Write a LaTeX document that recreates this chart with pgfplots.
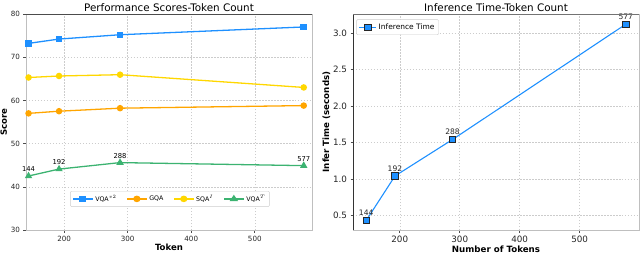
\documentclass[border=0pt]{standalone}
\usepackage{fontspec}
\setmainfont{DejaVu Sans}
\usepackage{pgfplots}
\pgfplotsset{compat=1.18}
\definecolor{cblue}{HTML}{1E90FF}
\definecolor{corange}{HTML}{FFA500}
\definecolor{cgold}{HTML}{FFD700}
\definecolor{cgreen}{HTML}{3CB371}
\begin{document}
\begin{tikzpicture}
\useasboundingbox (0,0) rectangle (640bp,254bp);
\pgfplotsset{
  base/.style={
    scale only axis,
    anchor=south west,
    /pgf/number format/assume math mode=true,
    grid=major,
    grid style={dash pattern=on 1.5pt off 1.5pt, black!20, line width=0.5pt},
    axis line style={black!25, line width=0.7pt},
    tick align=outside,
    major tick length=2.5bp,
    tick style={black!70, line width=0.6pt},
    xtick pos=bottom, ytick pos=left,
    clip=false,
  }
}
% ---------- left panel ----------
\begin{axis}[base,
  at={(26bp,24bp)}, width=286bp, height=216bp,
  xmin=140, xmax=590, ymin=30, ymax=80,
  xtick={200,300,400,500}, ytick={30,40,50,60,70,80},
  ticklabel style={font=\fontsize{7.2}{8}\selectfont, text=black!85},
  title={Performance Scores-Token Count},
  title style={font=\fontsize{10.4}{12}\selectfont, yshift=-7bp},
  xlabel={\textbf{Token}}, ylabel={\textbf{Score}},
  xlabel style={font=\fontsize{8.6}{10}\selectfont, yshift=4bp},
  ylabel style={font=\fontsize{8.6}{10}\selectfont, yshift=-3bp},
  legend columns=4,
  legend style={at={(0.503,0.144)}, anchor=center, draw=black!20, rounded corners=1pt,
    font=\fontsize{6.3}{7}\selectfont, inner sep=2pt,
    /tikz/every even column/.append style={column sep=8bp}},
  legend image post style={xscale=1.15},
  legend cell align=left,
  after end axis/.code={\draw[black!70, line width=0.9pt] (rel axis cs:0,1) -- (rel axis cs:1,1);},
]
\addplot[color=cblue, line width=1.3pt, mark=square*, mark size=2.6pt, mark options={fill=cblue}]
  coordinates {(144,73.2) (192,74.2) (288,75.2) (577,77.0)};
\addlegendentry{VQA$^{v2}$}
\addplot[color=corange, line width=1.3pt, mark=*, mark size=2.6pt, mark options={fill=corange}]
  coordinates {(144,57.0) (192,57.5) (288,58.2) (577,58.8)};
\addlegendentry{GQA}
\addplot[color=cgold, line width=1.3pt, mark=*, mark size=2.6pt, mark options={fill=cgold}]
  coordinates {(144,65.3) (192,65.65) (288,65.95) (577,63.0)};
\addlegendentry{SQA$^{I}$}
\addplot[color=cgreen, line width=1.3pt, mark=triangle*, mark size=3pt, mark options={fill=cgreen},
  nodes near coords, point meta=explicit symbolic,
  every node near coord/.append style={font=\fontsize{6.8}{8}\selectfont, text=black, yshift=0.5bp}]
  coordinates {(144,42.5)[144] (192,44.1)[192] (288,45.6)[288] (577,44.9)[577]};
\addlegendentry{VQA$^{T}$}
\end{axis}
% ---------- right panel ----------
\begin{axis}[base,
  at={(353bp,24bp)}, width=286bp, height=216bp,
  xmin=122, xmax=599, ymin=0.3, ymax=3.26,
  xtick={200,300,400,500}, ytick={0.5,1.0,1.5,2.0,2.5,3.0},
  yticklabel style={/pgf/number format/.cd, fixed, fixed zerofill, precision=1},
  ticklabel style={font=\fontsize{8.8}{10}\selectfont, text=black!85},
  title={Inference Time-Token Count},
  title style={font=\fontsize{10.4}{12}\selectfont, yshift=-7bp},
  xlabel={\textbf{Number of Tokens}}, ylabel={\textbf{Infer Time (seconds)}},
  xlabel style={font=\fontsize{8.7}{10}\selectfont, yshift=4bp},
  ylabel style={font=\fontsize{8.7}{10}\selectfont, yshift=-4bp},
  legend style={at={(0.012,0.975)}, anchor=north west, draw=black!20, rounded corners=1pt,
    font=\fontsize{7.5}{9}\selectfont, inner sep=2pt},
  legend cell align=left,
  after end axis/.code={
    \draw[black!80, line width=0.9pt] (rel axis cs:0,0) -- (rel axis cs:0,1);
    \draw[black!55, line width=0.8pt] (rel axis cs:0,1) -- (rel axis cs:1,1);},
]
\addplot[color=cblue, line width=1.1pt, mark=square*, mark size=3.2pt,
  mark options={fill=cblue, draw=black!85, line width=0.7pt},
  nodes near coords, point meta=explicit symbolic,
  every node near coord/.append style={font=\fontsize{7.6}{9}\selectfont, text=black!85, yshift=1bp}]
  coordinates {(144,0.43)[144] (192,1.04)[192] (288,1.54)[288] (577,3.12)[577]};
\addlegendentry{Inference Time}
\end{axis}
\end{tikzpicture}
\end{document}
